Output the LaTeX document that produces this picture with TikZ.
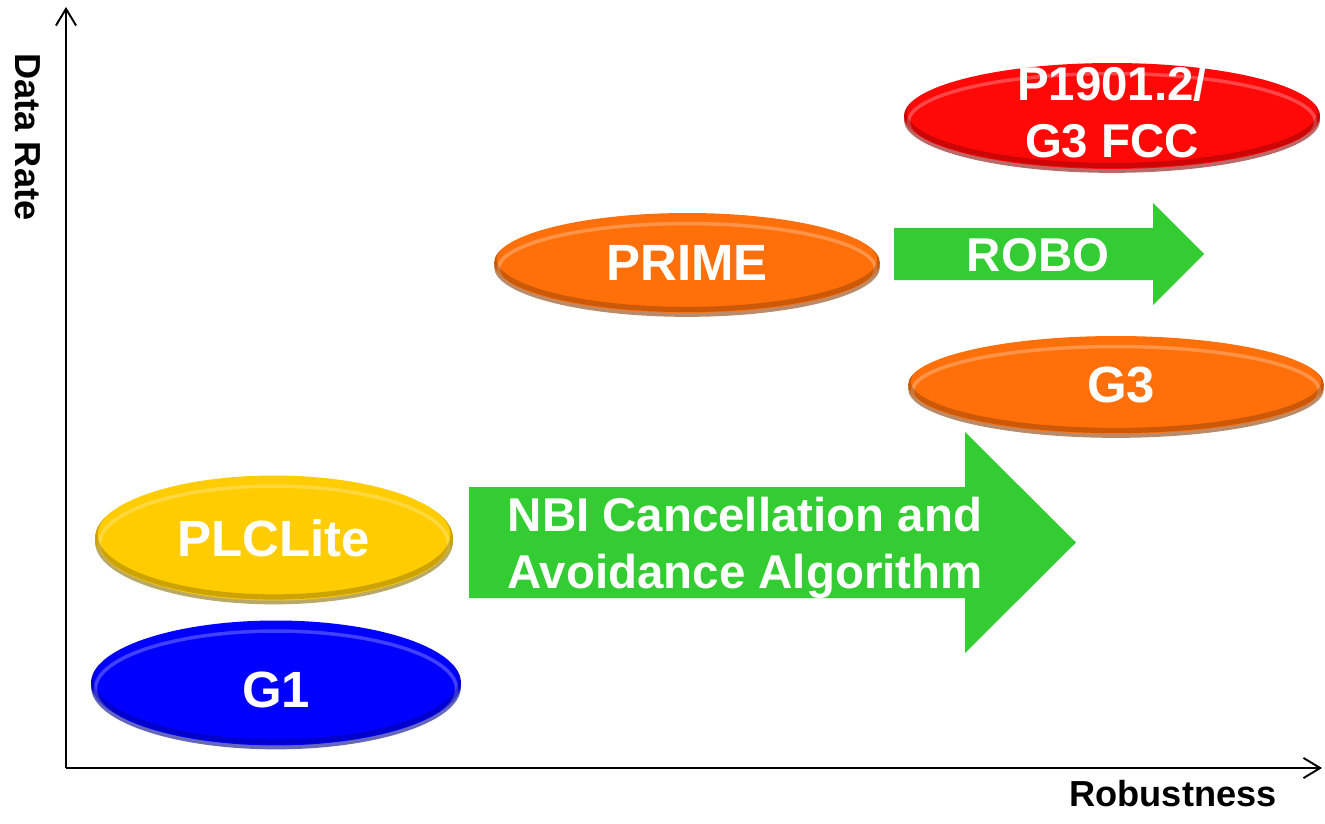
\documentclass[tikz,border=0pt]{standalone}
\usepackage{fontspec}
\setmainfont{Liberation Sans}
\usetikzlibrary{arrows.meta,positioning,shapes.geometric,shadows,calc}

\definecolor{fccred}{RGB}{255,8,8}
\definecolor{primeorange}{RGB}{255,112,10}
\definecolor{litegold}{RGB}{255,204,0}
\definecolor{gonblue}{RGB}{0,0,255}
\definecolor{arrowgreen}{RGB}{51,204,51}

\newcommand{\blobfont}{\fontsize{29}{35}\selectfont\bfseries}
\newcommand{\tagfont}{\fontsize{27}{32.4}\selectfont\bfseries}
\newcommand{\axisfont}{\fontsize{20.6}{24}\selectfont\bfseries}

\tikzset{
  blob/.style={ellipse, fill=#1, inner sep=0pt,
               drop shadow={shadow xshift=0pt, shadow yshift=-2.2pt,
                            fill=#1!55!black, opacity=.6},
               path picture={
                 \draw[white, opacity=.25, line width=2pt]
                   let \p1=(path picture bounding box.north east),
                       \p2=(path picture bounding box.center) in
                   ([yshift=-3.5pt]\p2) ellipse ({\x1-\x2-2.5pt} and {\y1-\y2-2.5pt});
                 \draw[black, opacity=.2, line width=3pt]
                   let \p1=(path picture bounding box.north east),
                       \p2=(path picture bounding box.center) in
                   ([yshift=2pt]\p2) ellipse ({\x1-\x2} and {\y1-\y2});
               }},
  lbl/.style={text=white, align=center, inner sep=0pt, font=\blobfont},
  bigarrow/.style={fill=arrowgreen},
  arrowtxt/.style={text=white, align=center, inner sep=0pt, font=\tagfont},
  axistxt/.style={inner sep=0pt, font=\axisfont},
  axisline/.style={line width=1.1pt, -{Straight Barb[length=9.5pt, width=11.5pt]}}
}

\begin{document}
\begin{tikzpicture}[x=0.02cm, y=-0.02cm]
  \useasboundingbox (0,0) rectangle (1325,824);

  % axes
  \coordinate (o) at (66,768);
  \coordinate (ytop) at (66,7);
  \coordinate (xend) at (1322,768);
  \draw[axisline] (o) -- (ytop);
  \draw[axisline] (o) -- (xend);
  \node[axistxt, rotate=-90, anchor=base] (rate) at (15,137) {Data Rate};
  \node[axistxt, anchor=base] (robust) at (1173,806) {Robustness};

  % block arrows: x start / head base / tip / centre y / half shaft / half head
  \foreach \xa/\xb/\xc/\yc/\hs/\hh in {469/965/1076/542.5/55.5/110.5,
                                        894/1153/1204/254/26/51}
    \fill[bigarrow] (\xa,{\yc-\hs}) -- (\xb,{\yc-\hs}) -- (\xb,{\yc-\hh})
      -- (\xc,\yc) -- (\xb,{\yc+\hh}) -- (\xb,{\yc+\hs}) -- (\xa,{\yc+\hs}) -- cycle;
  \node[arrowtxt] (nbi) at (745,548) {NBI Cancellation and\\Avoidance Algorithm};
  \node[arrowtxt] (robo) at (1038,255) {ROBO};

  % standards
  \node[blob=fccred, minimum width=8.32cm, minimum height=2.12cm,
        label={[lbl, font=\tagfont, yshift=2pt]center:P1901.2/\\G3 FCC}] (fcc) at (1112,116) {};
  \node[blob=primeorange, minimum width=7.72cm, minimum height=2.0cm,
        label={[lbl]center:PRIME}] (prime) at (687,263) {};
  \node[blob=primeorange, minimum width=8.32cm, minimum height=1.96cm,
        label={[lbl, xshift=3pt]center:G3}] (gthree) at (1116,385) {};
  \node[blob=litegold, minimum width=7.16cm, minimum height=2.5cm,
        label={[lbl]center:PLCLite}] (plc) at (274,538) {};
  \node[blob=gonblue, minimum width=7.4cm, minimum height=2.5cm,
        label={[lbl, yshift=-4pt]center:G1}] (gone) at (276,683) {};
\end{tikzpicture}
\end{document}
